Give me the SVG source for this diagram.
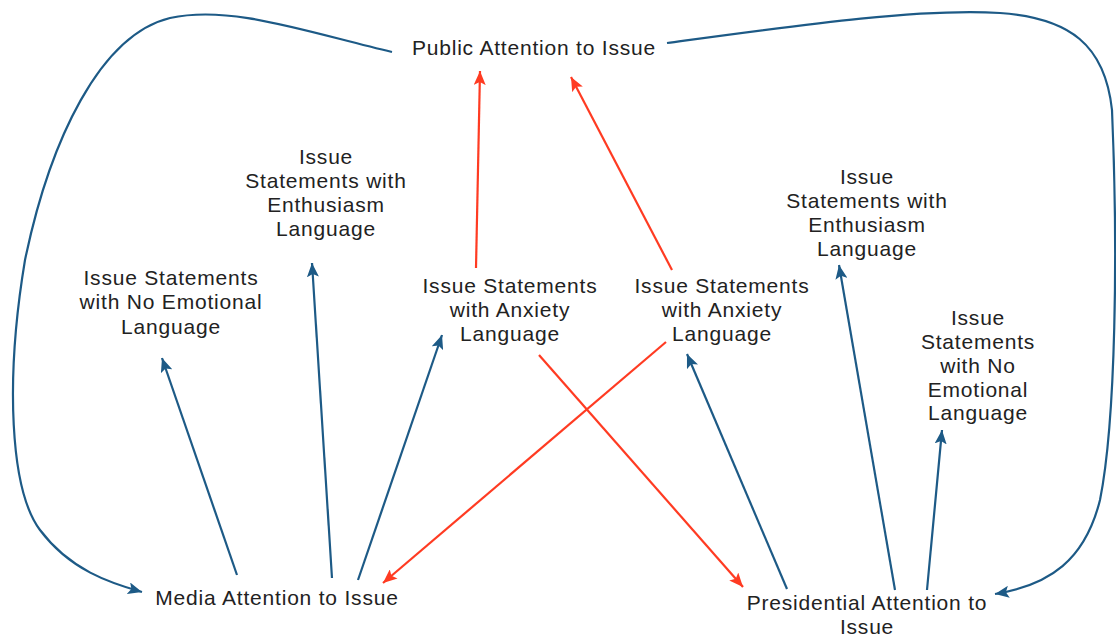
<svg xmlns="http://www.w3.org/2000/svg" width="1116" height="637" viewBox="0 0 1116 637">
<style>
.t{font-family:"Liberation Sans",Arial,sans-serif;font-size:21px;letter-spacing:0.8px;fill:#222;text-anchor:middle}
.b{fill:none;stroke:#1d5a86;stroke-width:2.2}
.r{fill:none;stroke:#ff3b22;stroke-width:2.2}
</style>
<defs>
<marker id="ab" markerUnits="userSpaceOnUse" markerWidth="16" markerHeight="12" refX="14" refY="6" orient="auto"><path d="M0,0 L14,6 L0,12 L3,6 z" fill="#1d5a86"/></marker>
<marker id="ar" markerUnits="userSpaceOnUse" markerWidth="16" markerHeight="12" refX="14" refY="6" orient="auto"><path d="M0,0 L14,6 L0,12 L3,6 z" fill="#ff3b22"/></marker>
</defs>
<rect width="1116" height="637" fill="#fff"/>
<g id="connectors">
<path class="b" marker-end="url(#ab)" d="M392 52 C300 30 230 5 170 18 C100 35 50 140 25 260 C5 380 10 490 40 530 C70 570 110 583 142 592"/>
<path class="b" marker-end="url(#ab)" d="M667 43 C800 25 920 8 1000 13 C1070 18 1105 45 1112 110 C1118 250 1116 420 1100 500 C1085 560 1050 585 995 594"/>
<path class="b" marker-end="url(#ab)" d="M237 575 L162 358"/>
<path class="b" marker-end="url(#ab)" d="M332 578 L312 263"/>
<path class="b" marker-end="url(#ab)" d="M358 580 L442 335"/>
<path class="b" marker-end="url(#ab)" d="M787 589 L687 354"/>
<path class="b" marker-end="url(#ab)" d="M895 590 L839 265"/>
<path class="b" marker-end="url(#ab)" d="M927 590 L942 430"/>
<path class="r" marker-end="url(#ar)" d="M476 268 L480 71"/>
<path class="r" marker-end="url(#ar)" d="M672 270 L571 77"/>
<path class="r" marker-end="url(#ar)" d="M539 355 L743 587"/>
<path class="r" marker-end="url(#ar)" d="M666 342 L383 583"/>
</g>
<g id="public"><text class="t" x="534" y="55">Public Attention to Issue</text></g>
<g id="media-noemo"><text class="t" x="171" y="285">Issue Statements</text><text class="t" x="171" y="309">with No Emotional</text><text class="t" x="171" y="334">Language</text></g>
<g id="media-enth"><text class="t" x="326" y="164">Issue</text><text class="t" x="326" y="188">Statements with</text><text class="t" x="326" y="212">Enthusiasm</text><text class="t" x="326" y="236">Language</text></g>
<g id="media-anx"><text class="t" x="510" y="293">Issue Statements</text><text class="t" x="510" y="317">with Anxiety</text><text class="t" x="510" y="341">Language</text></g>
<g id="pres-anx"><text class="t" x="722" y="293">Issue Statements</text><text class="t" x="722" y="317">with Anxiety</text><text class="t" x="722" y="341">Language</text></g>
<g id="pres-enth"><text class="t" x="867" y="184">Issue</text><text class="t" x="867" y="208">Statements with</text><text class="t" x="867" y="232">Enthusiasm</text><text class="t" x="867" y="256">Language</text></g>
<g id="pres-noemo"><text class="t" x="978" y="325">Issue</text><text class="t" x="978" y="349">Statements</text><text class="t" x="978" y="373">with No</text><text class="t" x="978" y="397">Emotional</text><text class="t" x="978" y="420">Language</text></g>
<g id="media"><text class="t" x="277" y="605">Media Attention to Issue</text></g>
<g id="pres"><text class="t" x="867" y="610">Presidential Attention to</text><text class="t" x="867" y="634">Issue</text></g>
</svg>
